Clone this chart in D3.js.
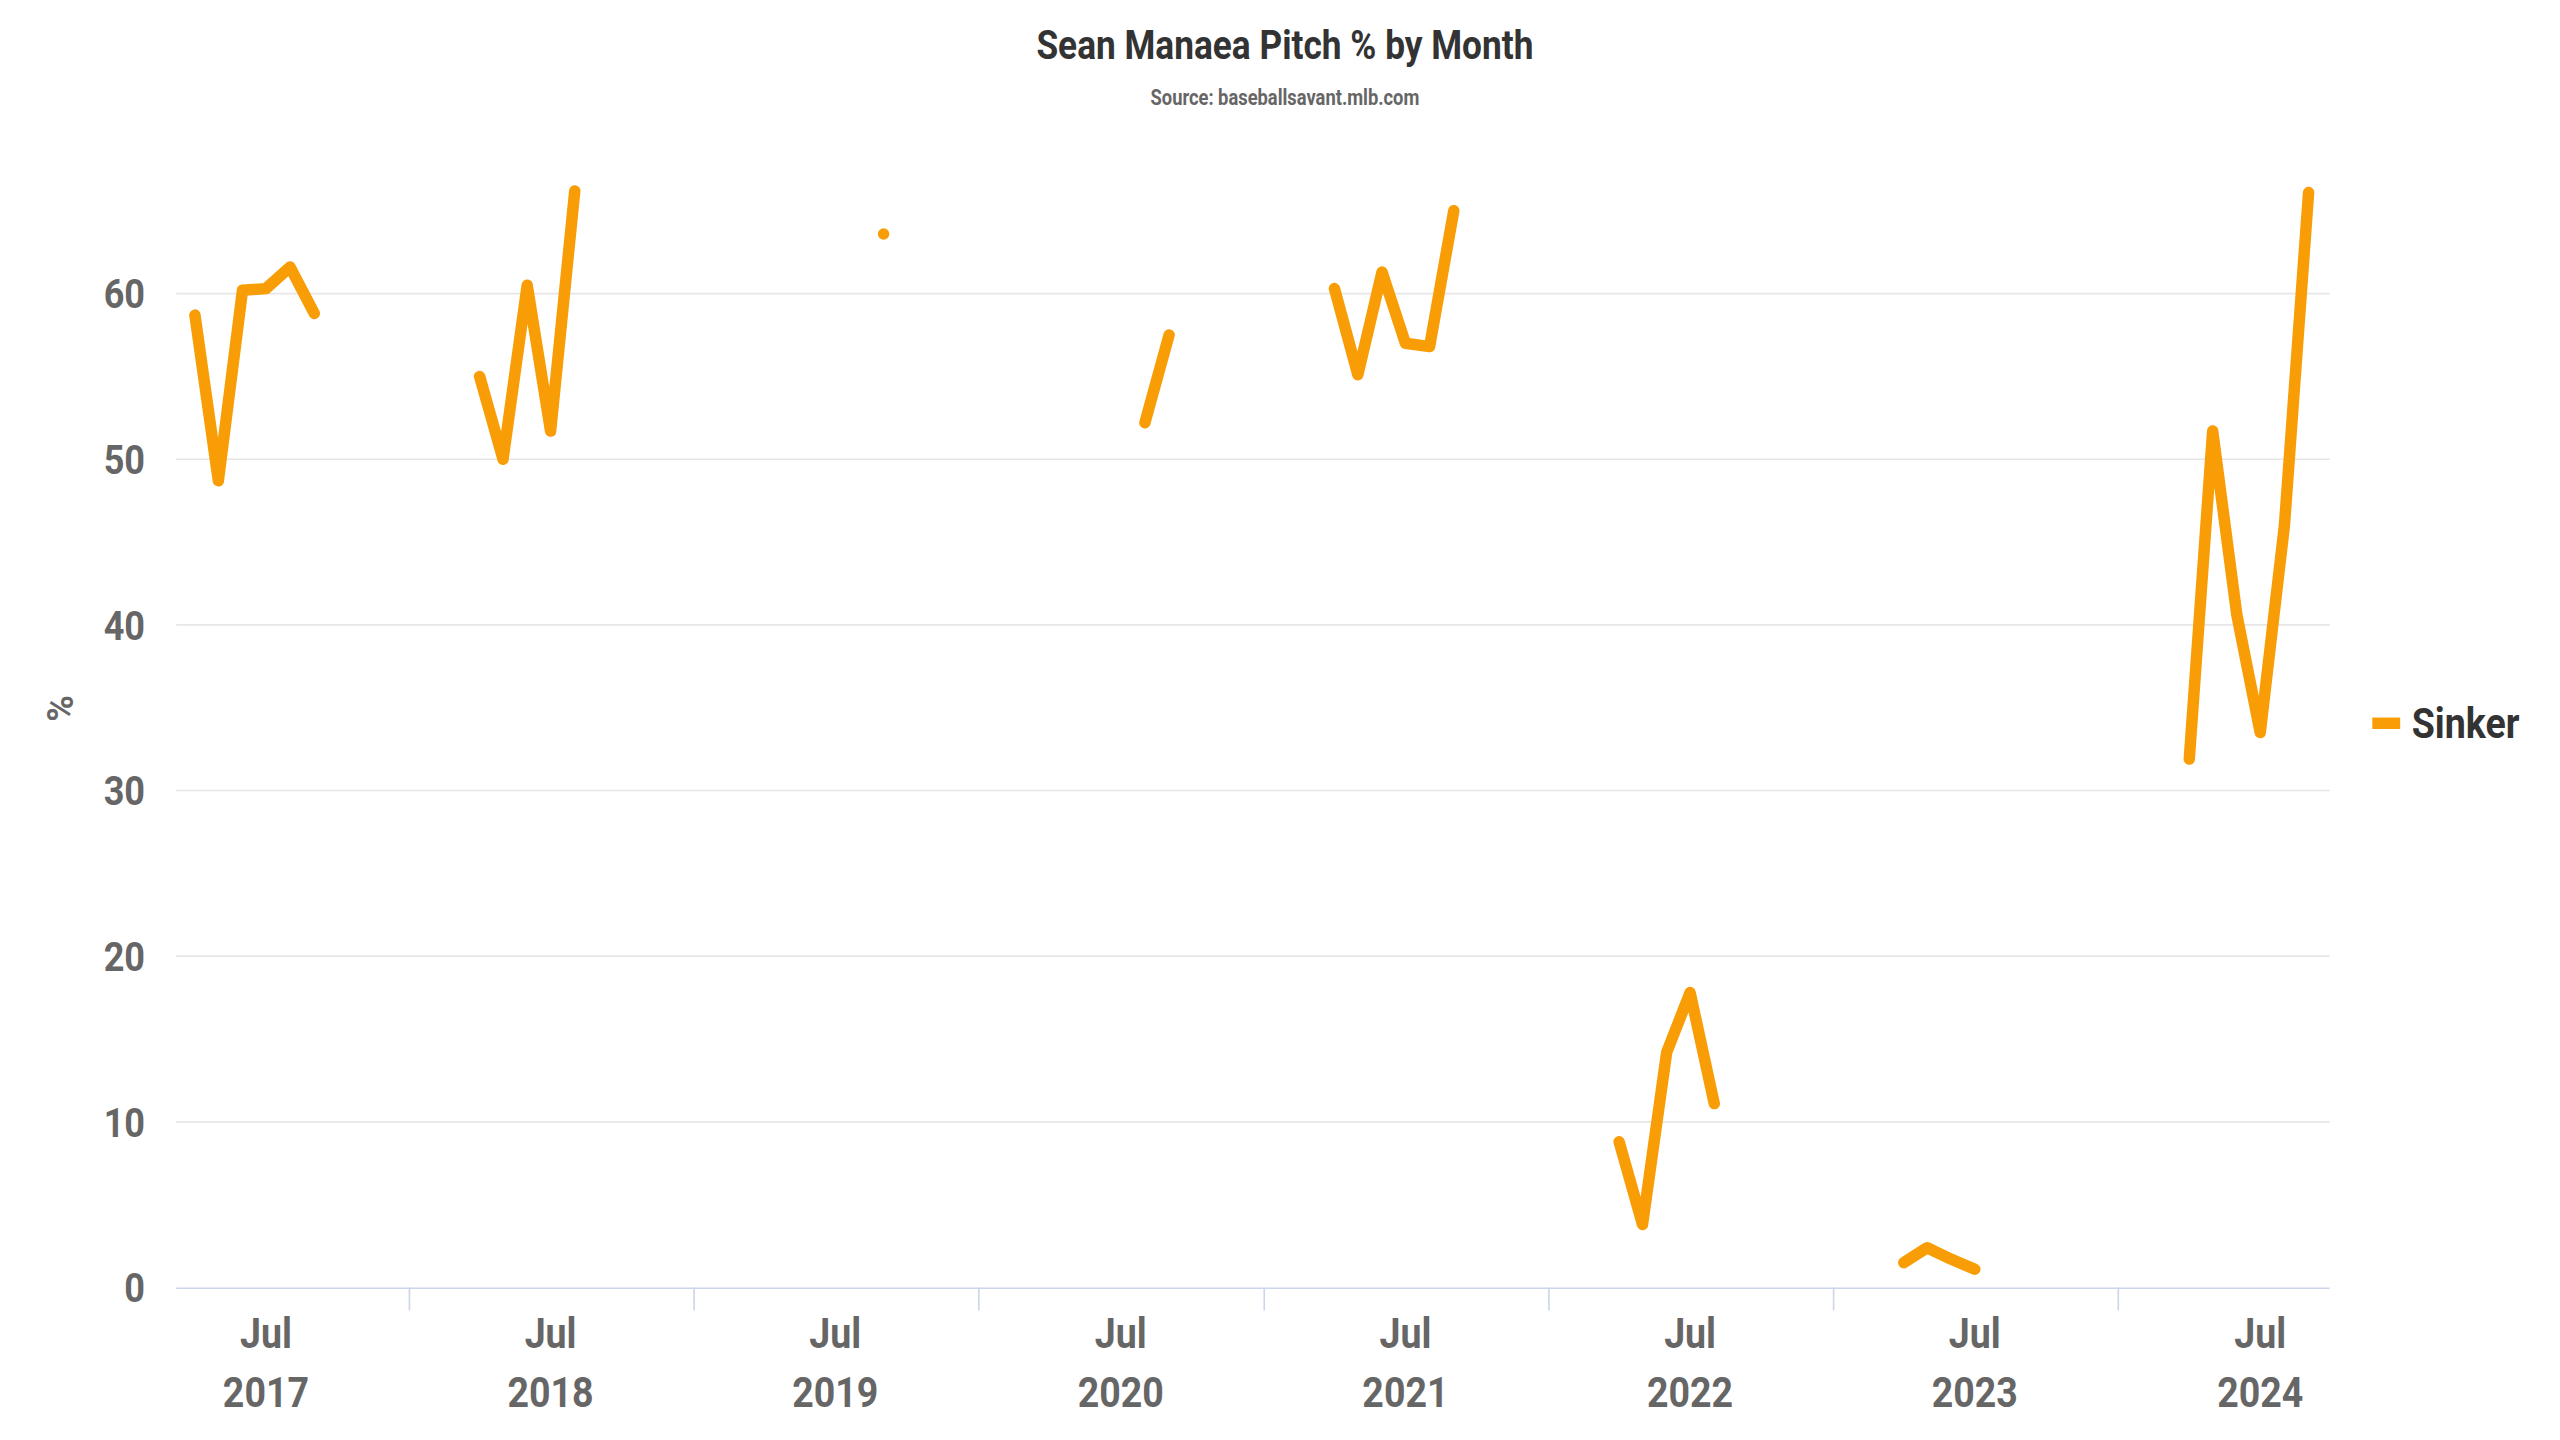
<!DOCTYPE html>
<html><head><meta charset="utf-8">
<script src="https://cdn.jsdelivr.net/npm/d3@7"></script>
<style>body{margin:0;background:#fff}svg{display:block}text{font-family:Roboto,"Liberation Sans Narrow",sans-serif}</style>
</head><body>
<svg id="c" width="2560" height="1440" viewBox="0 0 1560 878"></svg>
<script>
const title = "Sean Manaea Pitch % by Month";
const subtitle = "Source: baseballsavant.mlb.com";
const seriesName = "Sinker";
const months = ["2017-04","2017-05","2017-06","2017-07","2017-08","2017-09","2017-10",
  "2018-03","2018-04","2018-05","2018-06","2018-07","2018-08","2018-09",
  "2019-09","2019-10",
  "2020-07","2020-08","2020-09","2020-10",
  "2021-03","2021-04","2021-05","2021-06","2021-07","2021-08","2021-09","2021-10",
  "2022-03","2022-04","2022-05","2022-06","2022-07","2022-08","2022-09",
  "2023-03","2023-04","2023-05","2023-06","2023-07","2023-08",
  "2024-03","2024-04","2024-05","2024-06","2024-07","2024-08","2024-09"];
const sinker = [58.7,48.7,60.2,60.3,61.6,58.8,null,
  null,55.0,50.0,60.5,51.7,66.2,null,
  63.6,null,
  null,52.2,57.5,null,
  null,60.3,55.1,61.3,57.0,56.8,65.0,null,
  null,8.8,3.8,14.2,17.8,11.1,null,
  null,1.5,2.4,1.7,1.1,null,
  null,31.9,51.7,40.6,33.5,46.0,66.1];
const yTicks = [0,10,20,30,40,50,60];
const years = [2017,2018,2019,2020,2021,2022,2023,2024];

const svg = d3.select("#c");
const parse = d3.timeParse("%Y-%m");
const data = months.map((m,i)=>({d:parse(m),v:sinker[i]}));
const L=107,R=1420,B=785;
const x = d3.scaleTime().domain([new Date(2017,2,8),new Date(2024,8,28)]).range([L,R]);
const y = d3.scaleLinear().domain([0,60]).range([B,179]);

svg.append("text").attr("x",783).attr("y",36).attr("text-anchor","middle")
  .attr("font-size",25).attr("font-weight","bold").attr("fill","#333")
  .attr("transform","translate(783,0) scale(0.86,1) translate(-783,0)").text(title);
svg.append("text").attr("x",783).attr("y",64).attr("text-anchor","middle")
  .attr("font-size",13).attr("font-weight","bold").attr("fill","#666")
  .attr("transform","translate(783,0) scale(0.86,1) translate(-783,0)").text(subtitle);

// grid
svg.append("g").selectAll("line").data(yTicks.filter(t=>t>0)).join("line")
  .attr("x1",L).attr("x2",R).attr("y1",d=>y(d)).attr("y2",d=>y(d))
  .attr("stroke","#e6e6e6").attr("stroke-width",1);
svg.append("g").selectAll("text").data(yTicks).join("text")
  .attr("x",88).attr("y",d=>y(d)+9).attr("text-anchor","end")
  .attr("font-size",25).attr("font-weight","bold").attr("fill","#666")
  .attr("transform",d=>`translate(88,0) scale(0.88,1) translate(-88,0)`).text(d=>d);
svg.append("text").attr("transform","translate(44,432) rotate(-90)").attr("text-anchor","middle")
  .attr("font-size",22).attr("font-weight","bold").attr("fill","#666").text("%");

// x axis
svg.append("line").attr("x1",L).attr("x2",R).attr("y1",B+0.5).attr("y2",B+0.5).attr("stroke","#ccd6eb");
const jan = years.slice(1).map(yr=>new Date(yr,0,1));
svg.append("g").selectAll("line").data(jan).join("line")
  .attr("x1",d=>x(d)).attr("x2",d=>x(d)).attr("y1",B).attr("y2",B+14).attr("stroke","#ccd6eb");
const jul = years.map(yr=>new Date(yr,6,1));
const xl = svg.append("g").selectAll("g").data(jul).join("g")
  .attr("transform",d=>`translate(${x(d)},0) scale(0.88,1)`);
xl.append("text").attr("y",822).attr("text-anchor","middle").attr("font-size",26)
  .attr("font-weight","bold").attr("fill","#666").text("Jul");
xl.append("text").attr("y",858).attr("text-anchor","middle").attr("font-size",26)
  .attr("font-weight","bold").attr("fill","#666").text(d=>d.getFullYear());

// line
const color="#f99d07";
const line = d3.line().defined(d=>d.v!==null).x(d=>x(d.d)).y(d=>y(d.v));
svg.append("path").datum(data).attr("d",line).attr("fill","none").attr("stroke",color)
  .attr("stroke-width",7).attr("stroke-linejoin","round").attr("stroke-linecap","round");
// isolated points
data.forEach((p,i)=>{
  if(p.v!==null && (i===0||data[i-1].v===null) && (i===data.length-1||data[i+1].v===null)){
    svg.append("circle").attr("cx",x(p.d)).attr("cy",y(p.v)).attr("r",2.5).attr("fill",color);
  }
});

// legend
svg.append("line").attr("x1",1446).attr("x2",1463).attr("y1",441).attr("y2",441)
  .attr("stroke",color).attr("stroke-width",7);
svg.append("text").attr("x",1470).attr("y",450).attr("font-size",26).attr("font-weight","bold")
  .attr("fill","#333").attr("transform","translate(1470,0) scale(0.88,1) translate(-1470,0)").text(seriesName);
</script>
</body></html>
